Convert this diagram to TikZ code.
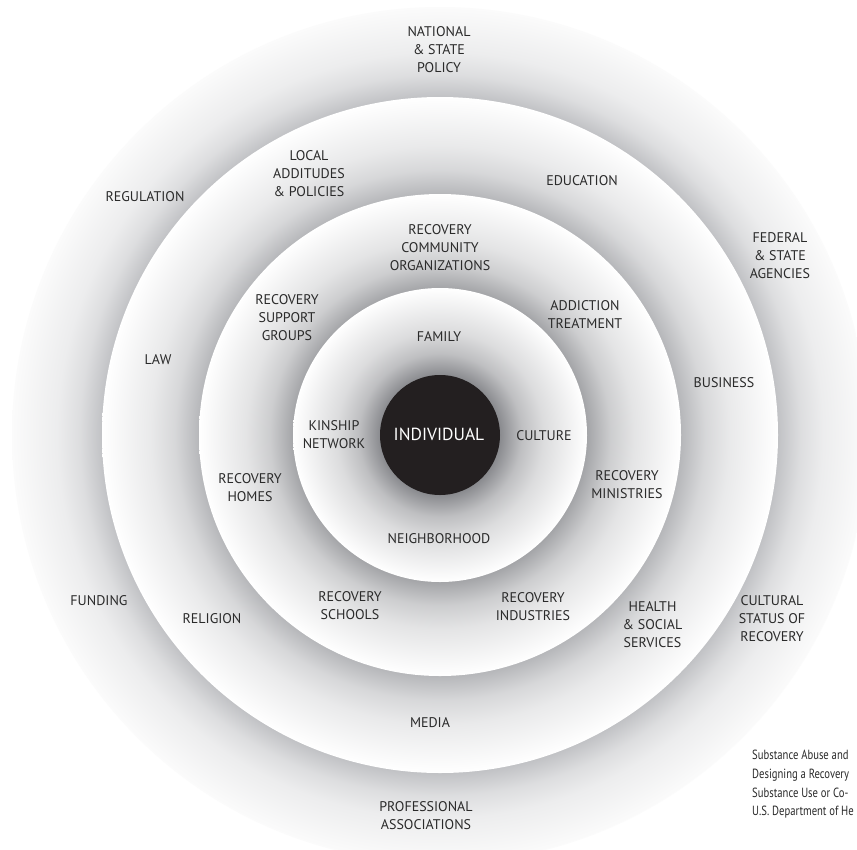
\documentclass[tikz,border=0pt]{standalone}
\usepackage{fontspec}
\setmainfont{PT Sans}
\newfontfamily\citefont[FakeStretch=0.8]{PT Sans}

% ring greys: darkest at the inner edge of each ring, white at its rim
\definecolor{ringw}{HTML}{FBFBFB}
\definecolor{ringa}{HTML}{C1C2C5}
\definecolor{ringb}{HTML}{B6B7BA}
\definecolor{ringc}{HTML}{A4A5A8}
\definecolor{ringd}{HTML}{8A8B8F}
\colorlet{ringaq}{ringa!55!white}\colorlet{ringah}{ringa!30!white}
\colorlet{ringbq}{ringb!55!white}\colorlet{ringbh}{ringb!30!white}
\colorlet{ringcq}{ringc!55!white}\colorlet{ringch}{ringc!30!white}
\colorlet{ringdq}{ringd!55!white}\colorlet{ringdh}{ringd!30!white}
\definecolor{core}{HTML}{231F20}
\definecolor{txt}{HTML}{2A2A2A}

% 25bp of each shading is the rim of its disc
\pgfdeclareradialshading{shadeA}{\pgfpoint{0bp}{0bp}}{color(0bp)=(ringa); color(19.74bp)=(ringa); color(21.06bp)=(ringaq); color(22.37bp)=(ringah); color(25bp)=(ringw); color(50bp)=(ringw)}
\pgfdeclareradialshading{shadeB}{\pgfpoint{0bp}{0bp}}{color(0bp)=(ringb); color(17.83bp)=(ringb); color(19.62bp)=(ringbq); color(21.41bp)=(ringbh); color(25bp)=(white); color(50bp)=(white)}
\pgfdeclareradialshading{shadeC}{\pgfpoint{0bp}{0bp}}{color(0bp)=(ringc); color(15.25bp)=(ringc); color(17.69bp)=(ringcq); color(20.12bp)=(ringch); color(25bp)=(white); color(50bp)=(white)}
\pgfdeclareradialshading{shadeD}{\pgfpoint{0bp}{0bp}}{color(0bp)=(ringd); color(10.2bp)=(ringd); color(13.9bp)=(ringdq); color(17.6bp)=(ringdh); color(25bp)=(white); color(50bp)=(white)}

\begin{document}
\begin{tikzpicture}[x=1pt, y=-1pt,
    lbl/.style={align=center, text=txt, inner sep=0pt,
      font=\fontsize{14}{18}\selectfont},
    cite/.style={anchor=base west, text=txt, inner sep=0pt,
      font=\citefont\fontsize{13.3}{19}\selectfont}]
  \useasboundingbox (0,0) rectangle (857,849);
  \fill[white] (0,0) rectangle (857,849);

  \coordinate (O) at (440,435);

  % nested discs
  \shade[shading=shadeA] (O) circle[radius=428pt];
  \shade[shading=shadeB] (O) circle[radius=338pt];
  \shade[shading=shadeC] (O) circle[radius=241pt];
  \shade[shading=shadeD] (O) circle[radius=147pt];
  \fill[core] (O) circle[radius=60pt];

  \node[lbl, text=white, font=\fontsize{17.5}{20}\selectfont] (ind) at (439,434.5) {INDIVIDUAL};

  % innermost ring
  \node[lbl] (fam) at (439,337) {FAMILY};
  \node[lbl] (kin) at (334,435) {KINSHIP\\NETWORK};
  \node[lbl] (cul) at (544,435.5) {CULTURE};
  \node[lbl] (nbh) at (439,539) {NEIGHBORHOOD};

  % second ring
  \node[lbl] (rco) at (440,248) {RECOVERY\\COMMUNITY\\ORGANIZATIONS};
  \node[lbl] (rsg) at (287,318) {RECOVERY\\SUPPORT\\GROUPS};
  \node[lbl] (adt) at (585,314.5) {ADDICTION\\TREATMENT};
  \node[lbl] (rho) at (250,487.5) {RECOVERY\\HOMES};
  \node[lbl] (rmi) at (627,484.5) {RECOVERY\\MINISTRIES};
  \node[lbl] (rsc) at (350,606) {RECOVERY\\SCHOOLS};
  \node[lbl] (rin) at (533,607) {RECOVERY\\INDUSTRIES};

  % third ring
  \node[lbl] (loc) at (309,174) {LOCAL\\ADDITUDES\\\& POLICIES};
  \node[lbl] (edu) at (582,181) {EDUCATION};
  \node[lbl] (law) at (158,360) {LAW};
  \node[lbl] (bus) at (724,382.5) {BUSINESS};
  \node[lbl] (rel) at (212,619) {RELIGION};
  \node[lbl] (hss) at (652.5,625) {HEALTH\\\& SOCIAL\\SERVICES};
  \node[lbl] (med) at (430,722.5) {MEDIA};

  % outer ring
  \node[lbl] (nat) at (439,50) {NATIONAL\\\& STATE\\POLICY};
  \node[lbl] (reg) at (145,197) {REGULATION};
  \node[lbl] (fed) at (780,256) {FEDERAL\\\& STATE\\AGENCIES};
  \node[lbl] (fun) at (99,601) {FUNDING};
  \node[lbl] (cst) at (772,619) {CULTURAL\\STATUS OF\\RECOVERY};
  \node[lbl] (pro) at (426,816) {PROFESSIONAL\\ASSOCIATIONS};

  % source note, running off the right edge
  \node[cite] (c1) at (752,759.5) {Substance Abuse and};
  \node[cite] (c2) at (752,778.5) {Designing a Recovery};
  \node[cite] (c3) at (752,797.5) {Substance Use or Co-};
  \node[cite] (c4) at (752,815.5) {U.S. Department of He};
\end{tikzpicture}
\end{document}
